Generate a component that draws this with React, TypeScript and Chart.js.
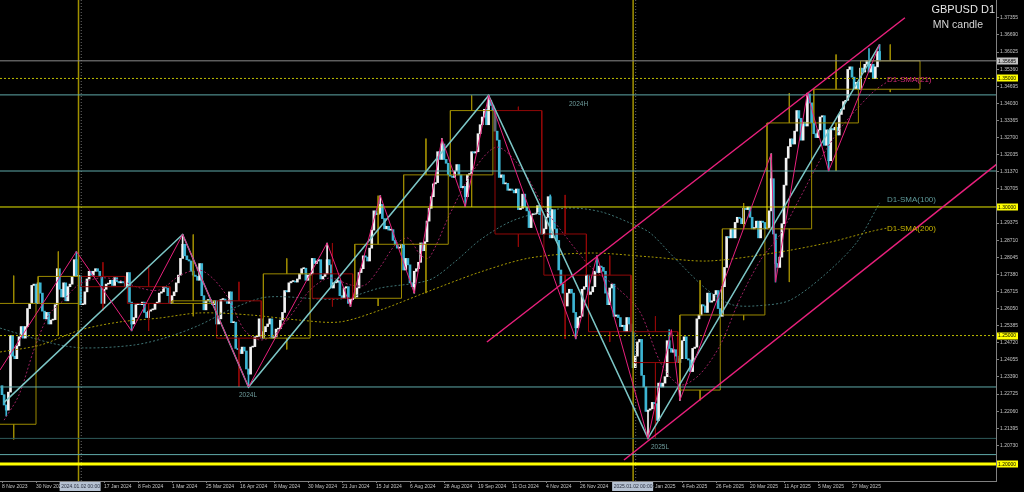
import React, { useEffect, useRef } from 'react';
import { Chart, registerables } from 'chart.js';

Chart.register(...registerables);

// ---------- daily closes (GBPUSD D1), one array per month ----------
const firstOpen = 1.2305;
const closesNov2023 = [1.2270, 1.2230, 1.2210, 1.2280, 1.2500, 1.2420, 1.2410, 1.2460, 1.2495, 1.2535, 1.2490, 1.2535, 1.2605, 1.2625, 1.2695, 1.2700, 1.2625];
const closesDec2023 = [1.2705, 1.2665, 1.2595, 1.2565, 1.2590, 1.2545, 1.2560, 1.2562, 1.2620, 1.2760, 1.2680, 1.2650, 1.2705, 1.2635, 1.2690, 1.2700, 1.2730, 1.2795, 1.2730, 1.2732];
const closesJan2024 = [1.2620, 1.2622, 1.2670, 1.2720, 1.2750, 1.2735, 1.2750, 1.2760, 1.2750, 1.2730, 1.2625, 1.2680, 1.2700, 1.2702, 1.2715, 1.2695, 1.2725, 1.2710, 1.2705, 1.2710, 1.2705, 1.2690];
const closesFeb2024 = [1.2745, 1.2630, 1.2545, 1.2570, 1.2620, 1.2625, 1.2620, 1.2630, 1.2590, 1.2570, 1.2595, 1.2600, 1.2602, 1.2625, 1.2630, 1.2665, 1.2670, 1.2690, 1.2685, 1.2655, 1.2625];
const closesMar2024 = [1.2655, 1.2670, 1.2705, 1.2735, 1.2800, 1.2855, 1.2810, 1.2795, 1.2790, 1.2750, 1.2735, 1.2730, 1.2715, 1.2780, 1.2655, 1.2600, 1.2635, 1.2640, 1.2630, 1.2620, 1.2635];
const closesApr2024 = [1.2545, 1.2565, 1.2640, 1.2642, 1.2635, 1.2625, 1.2670, 1.2550, 1.2552, 1.2450, 1.2445, 1.2430, 1.2455, 1.2440, 1.2370, 1.2350, 1.2455, 1.2457, 1.2495, 1.2497, 1.2565, 1.2490];
const closesMay2024 = [1.2515, 1.2535, 1.2545, 1.2565, 1.2490, 1.2495, 1.2525, 1.2527, 1.2560, 1.2590, 1.2675, 1.2670, 1.2705, 1.2710, 1.2712, 1.2708, 1.2720, 1.2740, 1.2760, 1.2762, 1.2715, 1.2735, 1.2740];
const closesJun2024 = [1.2800, 1.2780, 1.2790, 1.2795, 1.2720, 1.2730, 1.2740, 1.2795, 1.2775, 1.2685, 1.2705, 1.2707, 1.2715, 1.2655, 1.2645, 1.2685, 1.2690, 1.2625, 1.2640, 1.2645];
const closesJul2024 = [1.2650, 1.2685, 1.2745, 1.2760, 1.2810, 1.2805, 1.2790, 1.2840, 1.2910, 1.2985, 1.2970, 1.2975, 1.3010, 1.2955, 1.2915, 1.2925, 1.2910, 1.2912, 1.2870, 1.2855, 1.2840, 1.2842, 1.2855];
const closesAug2024 = [1.2755, 1.2800, 1.2775, 1.2705, 1.2690, 1.2750, 1.2760, 1.2785, 1.2860, 1.2830, 1.2865, 1.2945, 1.2995, 1.3040, 1.3090, 1.3095, 1.3215, 1.3185, 1.3245, 1.3185, 1.3170, 1.3125];
const closesSep2024 = [1.3120, 1.3115, 1.3140, 1.3165, 1.3125, 1.3075, 1.3080, 1.3040, 1.3125, 1.3130, 1.3215, 1.3210, 1.3215, 1.3285, 1.3320, 1.3350, 1.3380, 1.3320, 1.3415, 1.3395, 1.3375];
const closesOct2024 = [1.3295, 1.3260, 1.3115, 1.3125, 1.3090, 1.3092, 1.3065, 1.3070, 1.3065, 1.3055, 1.3070, 1.2990, 1.2995, 1.3050, 1.3000, 1.2985, 1.2920, 1.2970, 1.2972, 1.2975, 1.3005, 1.2970, 1.2895];
const closesNov2024 = [1.2915, 1.2960, 1.3040, 1.2880, 1.2990, 1.2915, 1.2870, 1.2755, 1.2700, 1.2665, 1.2615, 1.2665, 1.2680, 1.2665, 1.2590, 1.2530, 1.2570, 1.2575, 1.2680, 1.2690, 1.2735];
const closesDec2024 = [1.2660, 1.2670, 1.2690, 1.2750, 1.2745, 1.2770, 1.2765, 1.2750, 1.2665, 1.2620, 1.2685, 1.2700, 1.2575, 1.2580, 1.2570, 1.2535, 1.2540, 1.2515, 1.2570, 1.2545, 1.2515];
const closesJan2025 = [1.2375, 1.2420, 1.2475, 1.2485, 1.2345, 1.2300, 1.2205, 1.2210, 1.2215, 1.2240, 1.2235, 1.2170, 1.2315, 1.2300, 1.2315, 1.2340, 1.2480, 1.2450, 1.2435, 1.2445, 1.2420, 1.2395];
const closesFeb2025 = [1.2410, 1.2480, 1.2495, 1.2410, 1.2405, 1.2360, 1.2450, 1.2455, 1.2565, 1.2580, 1.2620, 1.2615, 1.2590, 1.2665, 1.2630, 1.2635, 1.2660, 1.2675, 1.2605, 1.2575];
const closesMar2025 = [1.2690, 1.2765, 1.2885, 1.2880, 1.2915, 1.2880, 1.2940, 1.2960, 1.2955, 1.2935, 1.2995, 1.2990, 1.3000, 1.2960, 1.2915, 1.2920, 1.2945, 1.2880, 1.2945, 1.2940, 1.2915];
const closesApr2025 = [1.2920, 1.2985, 1.3110, 1.2895, 1.2780, 1.2765, 1.2805, 1.2935, 1.3085, 1.3190, 1.3235, 1.3265, 1.3245, 1.3295, 1.3375, 1.3345, 1.3260, 1.3330, 1.3315, 1.3440, 1.3405, 1.3327];
const closesMay2025 = [1.3285, 1.3270, 1.3300, 1.3350, 1.3355, 1.3240, 1.3300, 1.3180, 1.3305, 1.3300, 1.3310, 1.3280, 1.3360, 1.3380, 1.3410, 1.3415, 1.3535, 1.3545, 1.3505, 1.3460, 1.3485, 1.3458];
const closesJun2025 = [1.3540, 1.3525, 1.3555, 1.3570, 1.3525, 1.3555, 1.3500, 1.3545, 1.3605, 1.35685];

const dailyByMonth = [
  closesNov2023, closesDec2023, closesJan2024, closesFeb2024, closesMar2024, closesApr2024,
  closesMay2024, closesJun2024, closesJul2024, closesAug2024, closesSep2024, closesOct2024,
  closesNov2024, closesDec2024, closesJan2025, closesFeb2025, closesMar2025, closesApr2025,
  closesMay2025, closesJun2025,
];

// wicks that can be read on the picture (swing extremes): bar index, extreme price
const wickIdx = [2, 35, 61, 85, 116, 153, 164, 178, 194, 207, 218, 229, 258, 270, 280, 304, 314, 319, 362, 364, 379, 389, 408, 413];
const wickPrice = [1.2187, 1.2827, 1.2518, 1.2893, 1.2300, 1.2860, 1.2613, 1.3044, 1.2665, 1.3266, 1.3001, 1.3434, 1.3047, 1.2487, 1.2811, 1.2100, 1.2523, 1.2248, 1.3207, 1.2708, 1.3443, 1.3140, 1.3616, 1.3632];

// ---------- monthly candles ("MN candle") ----------
const monthOpen = [1.2155, 1.2625, 1.2730, 1.2690, 1.2625, 1.2635, 1.2490, 1.2740, 1.2645, 1.2855, 1.3125, 1.3375, 1.2895, 1.2735, 1.2515, 1.2288, 1.2580, 1.2915, 1.3327, 1.3458];
const monthHigh = [1.2733, 1.2827, 1.2785, 1.2773, 1.2893, 1.2709, 1.2800, 1.2860, 1.3044, 1.3266, 1.3434, 1.3390, 1.3047, 1.2811, 1.2575, 1.2715, 1.3015, 1.3443, 1.3593, 1.3632];
const monthLow = [1.2096, 1.2500, 1.2597, 1.2518, 1.2575, 1.2300, 1.2446, 1.2613, 1.2615, 1.2665, 1.3001, 1.2845, 1.2487, 1.2475, 1.2100, 1.2248, 1.2560, 1.2708, 1.3140, 1.3447];
const monthClose = [1.2625, 1.2730, 1.2690, 1.2625, 1.2635, 1.2490, 1.2740, 1.2645, 1.2855, 1.3125, 1.3375, 1.2895, 1.2735, 1.2515, 1.2395, 1.2580, 1.2915, 1.3327, 1.3458, 1.35685];
const monthBarSpan = [22, 20, 22, 21, 21, 22, 23, 20, 23, 22, 21, 23, 21, 21, 22, 20, 21, 22, 22, 29];
const barsBeforeFirstVisible = 5;

// ---------- moving averages (bar index, price) ----------
const sma21Idx = [1, 8, 15, 22, 29, 36, 46, 55, 65, 74, 84, 93, 100, 107, 114, 121, 128, 135, 145, 154, 164, 171, 178, 185, 191, 197, 201, 211, 222, 233, 245, 255, 264, 277, 289, 300, 310, 319, 328, 338, 347, 357, 366, 375, 385, 394, 404, 411, 416.5];
const sma21Val = [1.2171, 1.2269, 1.2444, 1.2580, 1.2638, 1.2697, 1.2724, 1.2716, 1.2685, 1.2677, 1.2735, 1.2755, 1.2716, 1.2638, 1.2522, 1.2483, 1.2502, 1.2568, 1.2677, 1.2724, 1.2697, 1.2697, 1.2767, 1.2852, 1.2879, 1.2813, 1.2802, 1.2977, 1.3144, 1.3233, 1.3144, 1.3000, 1.2899, 1.2767, 1.2689, 1.2595, 1.2393, 1.2308, 1.2346, 1.2463, 1.2638, 1.2794, 1.2891, 1.3027, 1.3183, 1.3300, 1.3397, 1.3455, 1.3486];
const sma100Idx = [-0.9, 23, 38, 62, 78, 93, 109, 125, 159, 178, 201, 213, 225, 239, 254, 268, 282, 295.5, 305, 316, 332, 344, 360, 371, 386, 402, 413];
const sma100Val = [1.2529, 1.2471, 1.2452, 1.2463, 1.2494, 1.2541, 1.2607, 1.2650, 1.2642, 1.2685, 1.2716, 1.2786, 1.2872, 1.2942, 1.2981, 1.2996, 1.2981, 1.2938, 1.2899, 1.2806, 1.2677, 1.2619, 1.2619, 1.2638, 1.2728, 1.2860, 1.3016];
const sma200Idx = [-0.9, 18, 37, 55.5, 74, 93, 117, 140, 159, 178, 201, 225, 248.5, 277, 305, 332, 363, 388, 410, 416.5];
const sma200Val = [1.2436, 1.2463, 1.2522, 1.2553, 1.2568, 1.2588, 1.2580, 1.2560, 1.2553, 1.2599, 1.2673, 1.2747, 1.2802, 1.2821, 1.2806, 1.2790, 1.2821, 1.2860, 1.2907, 1.2918];

// ---------- zigzags and channel ----------
const pinkZigIdx = [-0.94, 35, 61, 85, 116, 153, 164, 178, 194, 207, 218, 229, 270, 280, 304, 315, 319, 362, 364, 379, 389, 413];
const pinkZigVal = [1.2366, 1.2827, 1.2518, 1.2893, 1.2300, 1.2860, 1.2613, 1.3044, 1.2665, 1.3266, 1.3001, 1.3434, 1.2487, 1.2811, 1.2100, 1.2523, 1.2248, 1.3207, 1.2708, 1.3443, 1.3140, 1.3632];
const tealZigIdx = [1, 85, 116, 229, 304, 413];
const tealZigVal = [1.2240, 1.2893, 1.2300, 1.3434, 1.2100, 1.3632];
const channelUpperIdx = [228.2, 424.9];
const channelUpperVal = [1.2475, 1.3736];
const channelLowerIdx = [292.7, 470];
const channelLowerVal = [1.2016, 1.3179];

// ---------- horizontal / vertical levels ----------
const bidLevel = 1.35685;
const yellowDottedLevels = [1.35, 1.25];
const yellowSolidLevel = 1.30;
const yellowThickLevel = 1.20;
const tealLevels = [1.3436, 1.3140, 1.2300, 1.2037];
const darkTealLevel = 1.2100;
const yearLineIdx = [36, 297];
const separatorIdx = [37.3, 298.2];

// ---------- axes ----------
const yTicks = [1.37355, 1.36690, 1.36025, 1.35360, 1.34695, 1.34030, 1.33365, 1.32700, 1.32035, 1.31370, 1.30705, 1.29375, 1.28710, 1.28045, 1.27380, 1.26715, 1.26050, 1.25385, 1.24720, 1.24055, 1.23390, 1.22725, 1.22060, 1.21395, 1.20730];
const xTickIdx = [0, 16, 32, 48, 64, 80, 96, 112, 128, 144, 160, 176, 192, 208, 224, 240, 256, 272, 288, 304, 320, 336, 352, 368, 384, 400];
const xTickText = ['8 Nov 2023', '30 Nov 2023', '22 Dec 2023', '17 Jan 2024', '8 Feb 2024', '1 Mar 2024', '25 Mar 2024', '16 Apr 2024', '8 May 2024', '30 May 2024', '21 Jun 2024', '15 Jul 2024', '6 Aug 2024', '28 Aug 2024', '19 Sep 2024', '11 Oct 2024', '4 Nov 2024', '26 Nov 2024', '18 Dec 2024', '13 Jan 2025', '4 Feb 2025', '26 Feb 2025', '20 Mar 2025', '11 Apr 2025', '5 May 2025', '27 May 2025'];
const xMarkIdx = [37, 297];
const xMarkText = ['2024.01.02 00:00', '2025.01.02 00:00'];
const yMarkGray = [1.35685];
const yMarkYellow = [1.35, 1.30, 1.25, 1.20];

// ---------- annotations ----------
const zoneText = ['2024H', '2024L', '2025L'];
const zoneIdx = [266.8, 111.5, 305.4];
const zoneVal = [1.3399, 1.2269, 1.2064];
const smaText = ['D1-SMA(21)', 'D1-SMA(100)', 'D1-SMA(200)'];
const smaTextIdx = [416.5, 416.5, 416.5];
const smaTextVal = [1.3494, 1.3027, 1.2916];

const X_MIN = -2 / 2.125;
const X_MAX = X_MIN + 996 / 2.125;
const Y_MIN = 1.19343;
const Y_MAX = 1.38051;

const FONT = 'Liberation Sans, Arial, sans-serif';
const BULL = '#f2f2f2';
const BEAR = '#3cb4d2';
const MN_BULL = '#9c8a00';
const MN_BEAR = '#920808';
const PINK = '#e8207c';
const TEAL = '#5fa9a9';

const pts = (xs: number[], ys: number[]) => xs.map((x, i) => ({ x, y: ys[i] }));

const lineDs = (data: any[], color: string, width: number, order: number, dash: number[] = [], tension = 0) => ({
  type: 'line' as const,
  data,
  borderColor: color,
  borderWidth: width,
  borderDash: dash,
  pointRadius: 0,
  pointHoverRadius: 0,
  fill: false,
  tension,
  spanGaps: false,
  order,
});

const hLine = (v: number, color: string, width: number, order: number, dash: number[] = []) =>
  lineDs([{ x: X_MIN, y: v }, { x: X_MAX, y: v }], color, width, order, dash);
const vLine = (v: number, color: string, width: number, order: number, dash: number[] = []) =>
  lineDs([{ x: v, y: Y_MIN }, { x: v, y: Y_MAX }], color, width, order, dash);

const zeroPad = (scale: any) => {
  scale.paddingTop = 0;
  scale.paddingBottom = 0;
  scale.paddingLeft = 0;
  scale.paddingRight = 0;
};

const overlay = {
  id: 'overlay',
  beforeDraw(chart: any) {
    const { ctx, width, height } = chart;
    ctx.save();
    ctx.fillStyle = '#000';
    ctx.fillRect(0, 0, width, height);
    ctx.restore();
  },
  afterDraw(chart: any) {
    const { ctx, chartArea } = chart;
    const xs = chart.scales.x;
    const ys = chart.scales.y;
    ctx.save();
    ctx.textBaseline = 'middle';
    ctx.textAlign = 'left';
    ctx.font = `6.5px ${FONT}`;
    ctx.fillStyle = '#6e9c9c';
    zoneText.forEach((t, i) => ctx.fillText(t, xs.getPixelForValue(zoneIdx[i]), ys.getPixelForValue(zoneVal[i])));
    ctx.font = `8px ${FONT}`;
    const smaColors = ['#d22a78', '#5f9a9a', '#c8b400'];
    smaText.forEach((t, i) => {
      ctx.fillStyle = smaColors[i];
      ctx.fillText(t, xs.getPixelForValue(smaTextIdx[i]), ys.getPixelForValue(smaTextVal[i]));
    });
    ctx.textAlign = 'right';
    ctx.textBaseline = 'alphabetic';
    ctx.fillStyle = '#e6e6e6';
    ctx.font = `11px ${FONT}`;
    ctx.fillText('GBPUSD D1', chartArea.right - 1, 13);
    ctx.fillStyle = '#d6d6d6';
    ctx.font = `10.5px ${FONT}`;
    ctx.fillText('MN candle', chartArea.right - 13, 28);
    ctx.textAlign = 'left';
    ctx.textBaseline = 'middle';
    ctx.font = `5px ${FONT}`;
    const drawY = (v: number, bg: string) => {
      const y = ys.getPixelForValue(v);
      ctx.fillStyle = bg;
      ctx.fillRect(chartArea.right + 1, Math.round(y) - 3.5, 21, 7);
      ctx.fillStyle = '#000';
      ctx.fillText(v.toFixed(5), chartArea.right + 2, y + 0.5);
    };
    yMarkGray.forEach((v) => drawY(v, '#c4c4c4'));
    yMarkYellow.forEach((v) => drawY(v, '#ffff00'));
    ctx.textAlign = 'center';
    xMarkIdx.forEach((v, i) => {
      const x = xs.getPixelForValue(v);
      ctx.fillStyle = '#b6c2d2';
      ctx.fillRect(x - 21, chartArea.bottom + 1, 41, 9);
      ctx.fillStyle = '#2a3040';
      ctx.fillText(xMarkText[i], x, chartArea.bottom + 6);
    });
    ctx.restore();
  },
};

export default function App() {
  const ref = useRef<HTMLCanvasElement>(null);
  useEffect(() => {
    document.body.style.margin = '0';
    const canvas = ref.current;
    if (!canvas) return;

    const closes = dailyByMonth.flat();
    const opens = closes.map((c, i) => (i === 0 ? firstOpen : closes[i - 1]));
    const candleData = closes.map((c, i) => ({ x: i, y: [opens[i], c] }));
    const candleColors = closes.map((c, i) => (c >= opens[i] ? BULL : BEAR));
    const wickData = wickIdx.map((i, k) => {
      const p = wickPrice[k];
      const edge = p > Math.max(opens[i], closes[i]) ? Math.max(opens[i], closes[i]) : Math.min(opens[i], closes[i]);
      return { x: i, y: [edge, p] };
    });
    const wickColors = wickIdx.map((i) => candleColors[i]);

    const bullBox: any[] = [];
    const bearBox: any[] = [];
    let start = -barsBeforeFirstVisible;
    monthOpen.forEach((o, k) => {
      const c = monthClose[k];
      const s = start;
      const e = start + monthBarSpan[k] - 1;
      const m = (s + e) / 2;
      const top = Math.max(o, c);
      const bot = Math.min(o, c);
      const arr = c >= o ? bullBox : bearBox;
      arr.push(
        { x: s, y: o }, { x: e, y: o }, { x: e, y: c }, { x: s, y: c }, { x: s, y: o }, { x: s, y: null },
        { x: m, y: monthHigh[k] }, { x: m, y: top }, { x: m, y: null },
        { x: m, y: bot }, { x: m, y: monthLow[k] }, { x: m, y: null },
      );
      start += monthBarSpan[k];
    });

    const datasets: any[] = [
      {
        type: 'bar',
        data: candleData,
        backgroundColor: candleColors,
        barThickness: 2,
        minBarLength: 1,
        grouped: false,
        borderWidth: 0,
        order: 9,
      },
      {
        type: 'bar',
        data: wickData,
        backgroundColor: wickColors,
        barThickness: 1,
        grouped: false,
        borderWidth: 0,
        order: 9,
      },
      lineDs(pts(sma200Idx, sma200Val), '#a89a00', 1, 8, [2, 2], 0.3),
      lineDs(pts(sma100Idx, sma100Val), '#3f7474', 1, 8, [2, 2], 0.3),
      lineDs(pts(sma21Idx, sma21Val), '#9c2060', 1, 8, [2, 2], 0.3),
      lineDs(bullBox, MN_BULL, 1, 6),
      lineDs(bearBox, MN_BEAR, 1, 6),
      hLine(bidLevel, '#8a8a8a', 1, 5),
      ...yellowDottedLevels.map((v) => hLine(v, '#bcbc00', 1, 5, [2, 2])),
      hLine(yellowSolidLevel, '#e6e600', 1, 5),
      hLine(yellowThickLevel, '#ffff00', 3, 5),
      ...tealLevels.map((v) => hLine(v, TEAL, 1, 5)),
      hLine(darkTealLevel, '#2f5a5a', 1, 5),
      ...yearLineIdx.map((v) => vLine(v, '#a09000', 1.5, 5)),
      ...separatorIdx.map((v) => vLine(v, '#6a6a6a', 1, 5, [1, 2])),
      lineDs(pts(tealZigIdx, tealZigVal), '#7cc6c6', 1.5, 3),
      lineDs(pts(pinkZigIdx, pinkZigVal), PINK, 1, 2),
      lineDs(pts(channelUpperIdx, channelUpperVal), PINK, 1.5, 1),
      lineDs(pts(channelLowerIdx, channelLowerVal), PINK, 1.5, 1),
    ];

    const chart = new Chart(canvas, {
      type: 'line',
      data: { datasets },
      options: {
        animation: false,
        responsive: false,
        maintainAspectRatio: false,
        devicePixelRatio: 1,
        layout: { padding: 0 },
        events: [],
        plugins: { legend: { display: false }, tooltip: { enabled: false } },
        scales: {
          x: {
            type: 'linear',
            offset: false,
            min: X_MIN,
            max: X_MAX,
            afterBuildTicks: (scale: any) => {
              scale.ticks = xTickIdx.map((v) => ({ value: v }));
            },
            afterFit: (scale: any) => {
              scale.height = 11;
              zeroPad(scale);
            },
            grid: { offset: false, drawOnChartArea: false, drawTicks: true, tickLength: 2, color: '#808080' },
            border: { display: true, color: '#808080', width: 1 },
            ticks: {
              autoSkip: false,
              maxRotation: 0,
              minRotation: 0,
              align: 'start',
              padding: 1,
              color: '#c4c4c4',
              font: { size: 5, family: FONT },
              callback: (v: any) => {
                const i = xTickIdx.indexOf(Number(v));
                return i >= 0 ? xTickText[i] : '';
              },
            },
          },
          y: {
            type: 'linear',
            position: 'right',
            beginAtZero: false,
            min: Y_MIN,
            max: Y_MAX,
            afterBuildTicks: (scale: any) => {
              scale.ticks = yTicks.map((v) => ({ value: v }));
            },
            afterFit: (scale: any) => {
              scale.width = 28;
              zeroPad(scale);
            },
            grid: { drawOnChartArea: false, drawTicks: true, tickLength: 3, color: '#808080' },
            border: { display: true, color: '#808080', width: 1 },
            ticks: {
              autoSkip: false,
              padding: 1,
              color: '#c4c4c4',
              font: { size: 5, family: FONT },
              callback: (v: any) => Number(v).toFixed(5),
            },
          },
        },
      } as any,
      plugins: [overlay],
    });
    return () => chart.destroy();
  }, []);

  return (
    <div style={{ position: 'fixed', left: 0, top: 0, width: 1024, height: 492, background: '#000' }}>
      <canvas ref={ref} width={1024} height={492} style={{ display: 'block', width: 1024, height: 492 }} />
    </div>
  );
}
